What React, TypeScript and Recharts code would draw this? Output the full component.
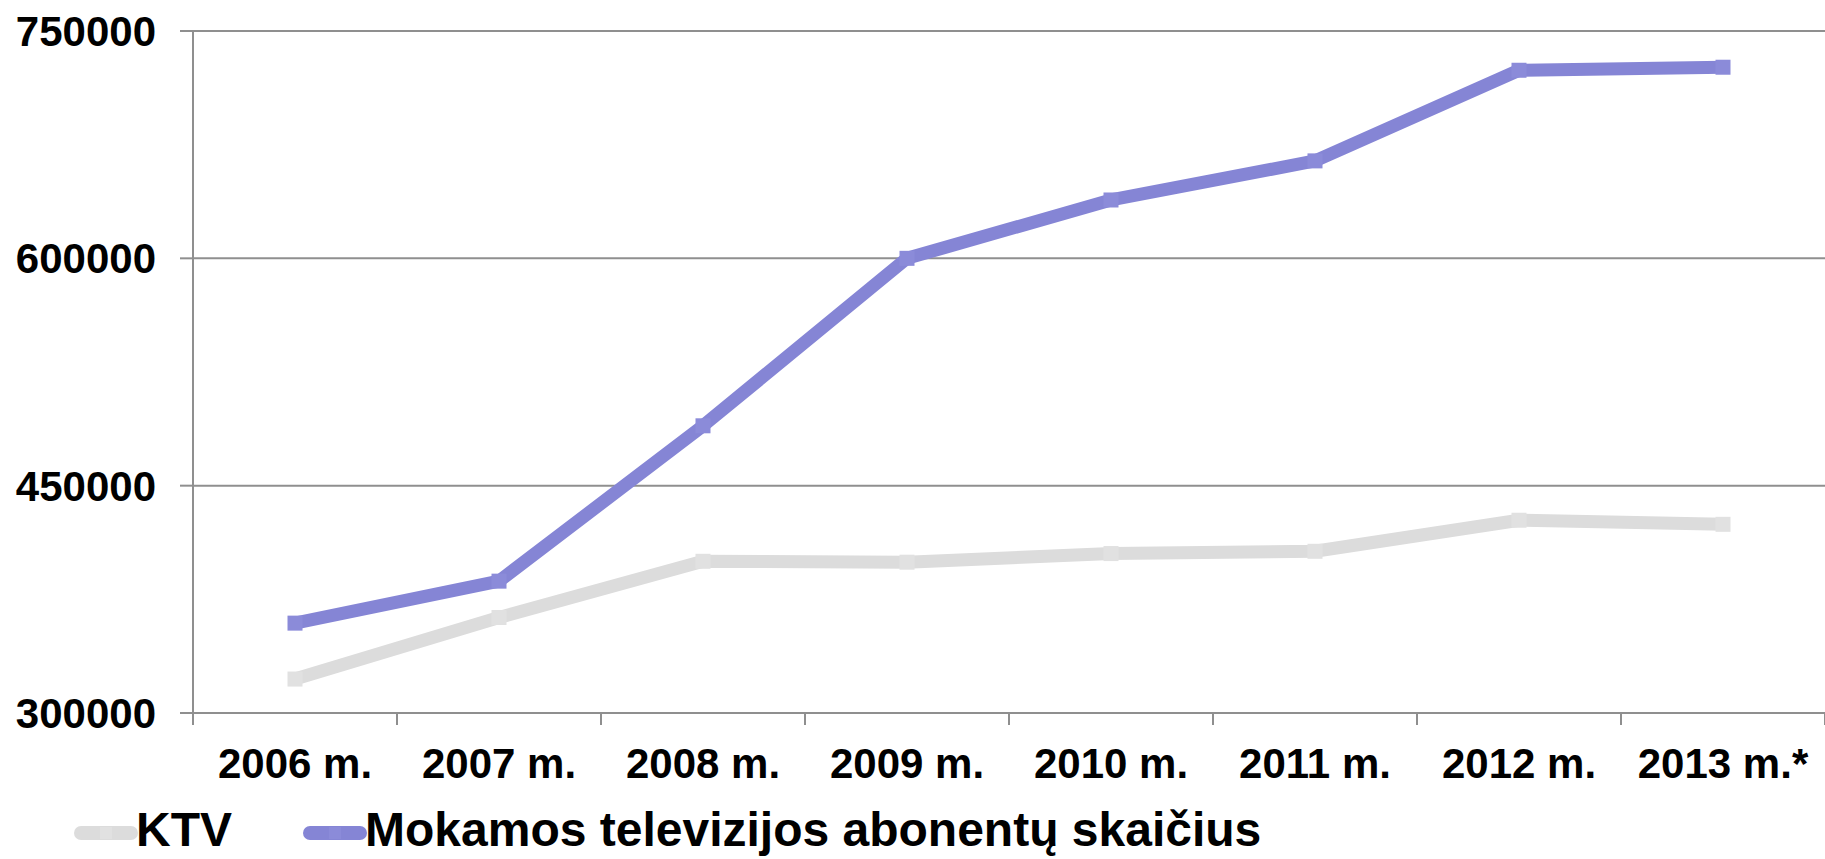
import React from 'react';
import { LineChart, Line, XAxis, YAxis, CartesianGrid, Legend } from 'recharts';

const categories = ['2006 m.', '2007 m.', '2008 m.', '2009 m.', '2010 m.', '2011 m.', '2012 m.', '2013 m.*'];
const ktvValues = [322400, 363000, 400100, 399500, 405200, 406700, 427200, 424500];
const mokamosValues = [359300, 387000, 489500, 600000, 638500, 664300, 724100, 726100];
const yTicks = [300000, 450000, 600000, 750000];
const seriesNames = ['KTV', 'Mokamos televizijos abonentų skaičius'];

const data = categories.map((c, i) => ({ name: c, ktv: ktvValues[i], mok: mokamosValues[i] }));

const CHART_W = 1825;
const CHART_H = 859;
const Y_AXIS_W = 193;
const MARGIN = { top: 31, right: 0, left: 0, bottom: 0 };
const PLOT_W = CHART_W - Y_AXIS_W - MARGIN.left - MARGIN.right;
const HALF_BAND = PLOT_W / categories.length / 2;
const X_TICK_SIZE = 12;
const X_TICK_MARGIN = 23;
const FONT = '"Liberation Sans", Arial, sans-serif';
const AXIS_COLOR = '#8f8f8f';
const KTV_COLOR = '#dcdcdc';
const KTV_MARK = '#e1e1e1';
const MOK_COLOR = '#8585d5';
const MOK_MARK = '#8b8bd9';

const XTick = (props: any) => {
  const { x, y, payload, index } = props;
  const axisY = y - X_TICK_SIZE - X_TICK_MARGIN;
  const last = index === categories.length - 1;
  return (
    <g>
      <line x1={x - HALF_BAND} x2={x - HALF_BAND} y1={axisY} y2={axisY + X_TICK_SIZE} stroke={AXIS_COLOR} strokeWidth={2} />
      {last && (
        <line x1={x + HALF_BAND} x2={x + HALF_BAND} y1={axisY} y2={axisY + X_TICK_SIZE} stroke={AXIS_COLOR} strokeWidth={2} />
      )}
      <text x={x} y={y} dy="0.71em" textAnchor="middle" fontSize={42} fontWeight="bold" fontFamily={FONT} fill="#000">
        {payload.value}
      </text>
    </g>
  );
};

const makeDot = (color: string) => (props: any) => {
  const { cx, cy, index } = props;
  if (cx == null || cy == null) return <g key={index} />;
  return <rect key={index} x={cx - 7.5} y={cy - 7.5} width={15} height={15} fill={color} />;
};

const LegendIcon = ({ color, mark }: { color: string; mark: string }) => (
  <svg width={64} height={16} style={{ display: 'block' }}>
    <line x1={7} x2={57} y1={8} y2={8} stroke={color} strokeWidth={14} strokeLinecap="round" />
    <rect x={26} y={2} width={12} height={12} fill={mark} />
  </svg>
);

const LegendContent = () => {
  const items = [
    { name: seriesNames[0], color: KTV_COLOR, mark: KTV_MARK, left: 74 },
    { name: seriesNames[1], color: MOK_COLOR, mark: MOK_MARK, left: 303 },
  ];
  return (
    <div style={{ position: 'relative', width: CHART_W, height: 58 }}>
      {items.map((it) => (
        <div
          key={it.name}
          style={{ position: 'absolute', left: it.left, top: 0, height: 58, display: 'flex', alignItems: 'center' }}
        >
          <div style={{ marginTop: 5 }}>
            <LegendIcon color={it.color} mark={it.mark} />
          </div>
          <span
            style={{
              marginLeft: -2,
              fontFamily: FONT,
              fontWeight: 'bold',
              fontSize: 48,
              lineHeight: '58px',
              color: '#000',
              whiteSpace: 'nowrap',
            }}
          >
            {it.name}
          </span>
        </div>
      ))}
    </div>
  );
};

export default function App() {
  return (
    <div style={{ position: 'absolute', left: 0, top: 0, width: CHART_W, height: CHART_H, background: '#fff' }}>
      <LineChart width={CHART_W} height={CHART_H} data={data} margin={MARGIN}>
        <CartesianGrid vertical={false} stroke={AXIS_COLOR} strokeWidth={2} />
        <XAxis
          dataKey="name"
          interval={0}
          height={88}
          padding={{ left: HALF_BAND, right: HALF_BAND }}
          axisLine={{ stroke: AXIS_COLOR, strokeWidth: 2 }}
          tickLine={false}
          tickSize={X_TICK_SIZE}
          tickMargin={X_TICK_MARGIN}
          tick={<XTick />}
        />
        <YAxis
          width={Y_AXIS_W}
          domain={[300000, 750000]}
          ticks={yTicks}
          interval={0}
          axisLine={{ stroke: AXIS_COLOR, strokeWidth: 2 }}
          tickLine={{ stroke: AXIS_COLOR, strokeWidth: 2 }}
          tickSize={13}
          tickMargin={24}
          tick={{ fontSize: 42, fontWeight: 'bold', fontFamily: FONT, fill: '#000' }}
        />
        <Legend verticalAlign="bottom" align="left" content={<LegendContent />} wrapperStyle={{ left: 0, bottom: 0, width: CHART_W, height: 58 }} />
        <Line
          type="linear"
          dataKey="ktv"
          name={seriesNames[0]}
          stroke={KTV_COLOR}
          strokeWidth={13}
          strokeLinejoin="round"
          dot={makeDot(KTV_MARK)}
          activeDot={false}
          isAnimationActive={false}
        />
        <Line
          type="linear"
          dataKey="mok"
          name={seriesNames[1]}
          stroke={MOK_COLOR}
          strokeWidth={13}
          strokeLinejoin="round"
          dot={makeDot(MOK_MARK)}
          activeDot={false}
          isAnimationActive={false}
        />
      </LineChart>
    </div>
  );
}
